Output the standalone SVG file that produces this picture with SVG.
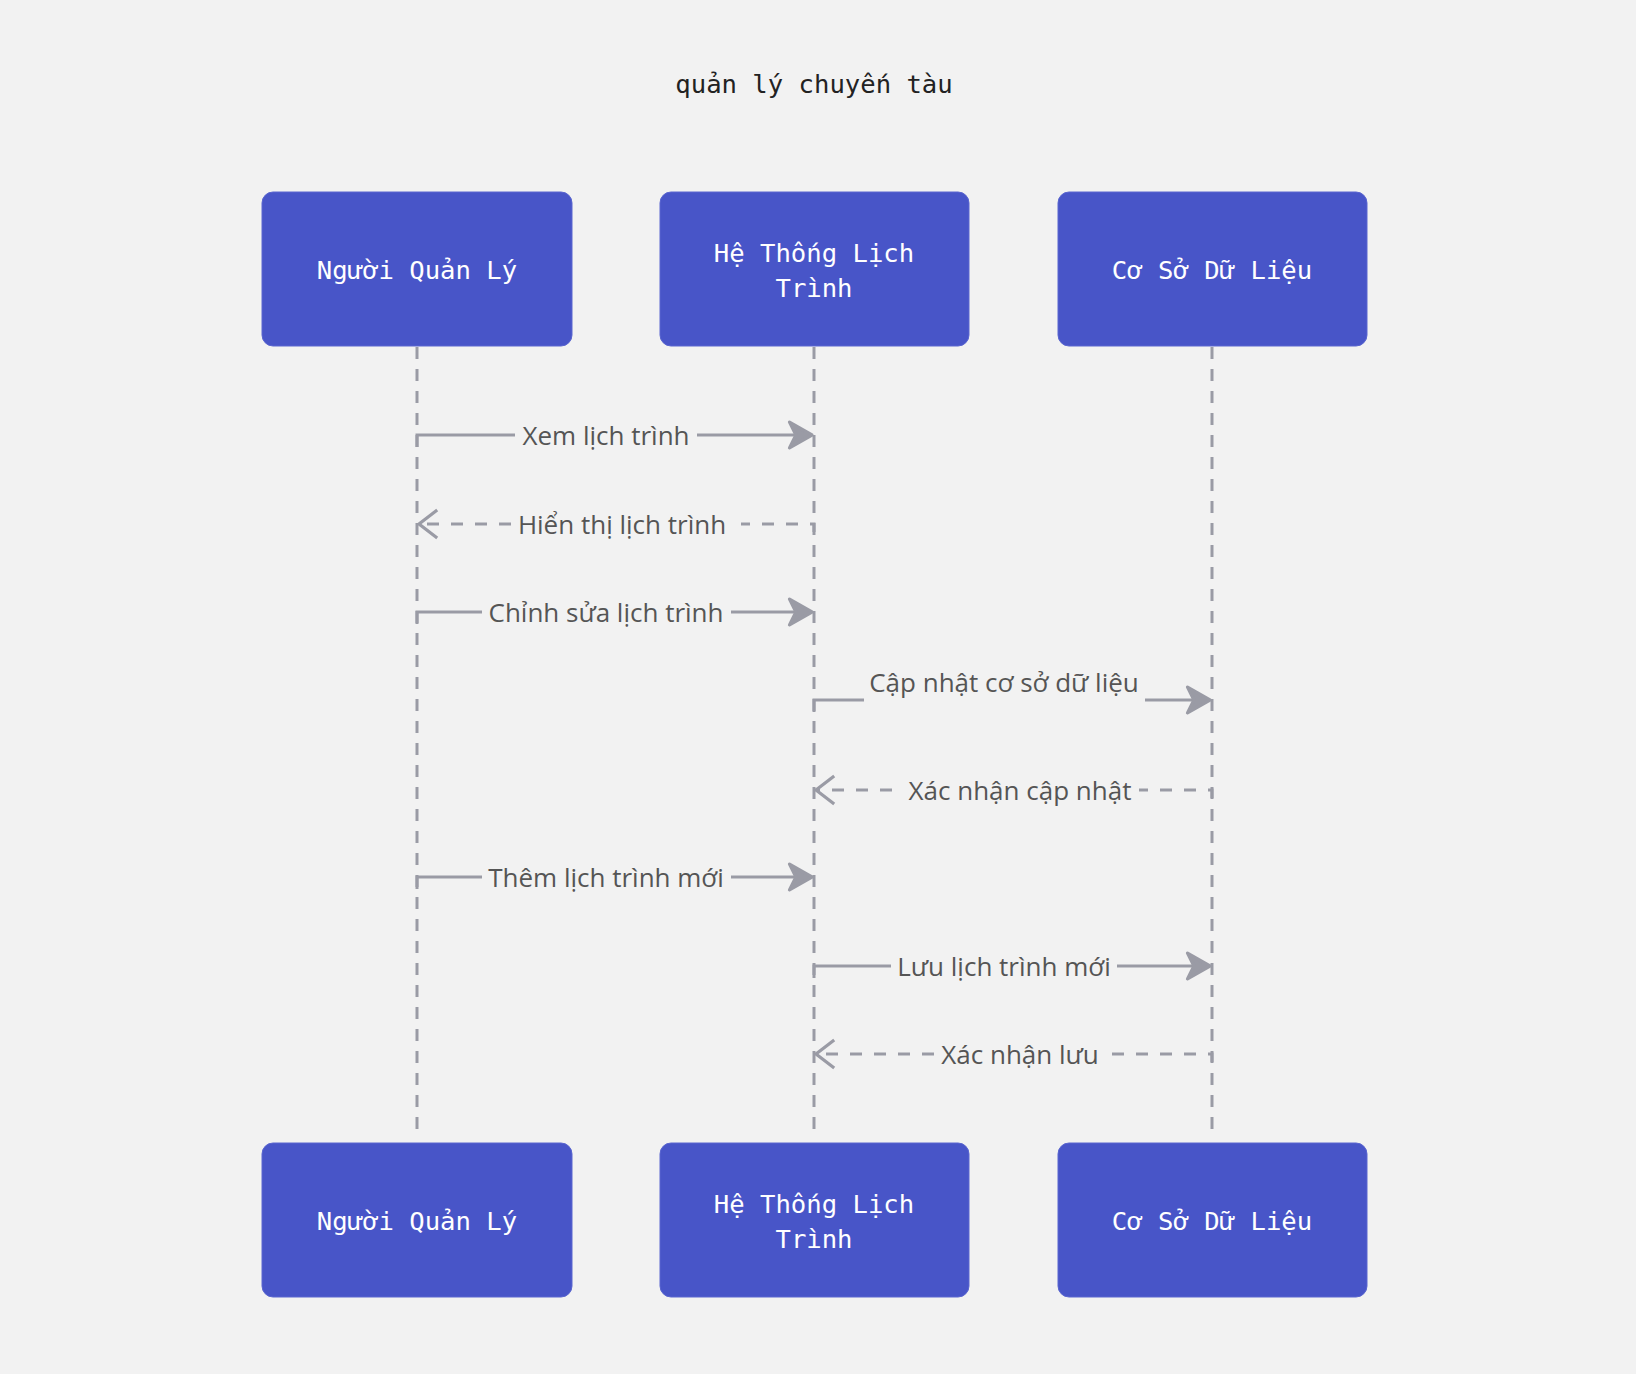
<svg xmlns="http://www.w3.org/2000/svg" width="1636" height="1374" viewBox="0 0 1636 1374">
<style>
.bg{fill:#f2f2f2}
.box{fill:#4855c8;stroke:#5a66d0;stroke-width:1}
.nt{font-family:"DejaVu Sans Mono","Liberation Mono",monospace;font-size:25.6px;fill:#ffffff;text-anchor:middle;dominant-baseline:central}
.title{font-family:"DejaVu Sans Mono","Liberation Mono",monospace;font-size:25.6px;fill:#222;text-anchor:middle;dominant-baseline:central}
.life{stroke:#9a9ba5;stroke-width:3;stroke-dasharray:12 10;fill:none}
.msg{stroke:#9a9ba5;stroke-width:3;fill:none}
.ret{stroke:#9a9ba5;stroke-width:3;fill:none;stroke-dasharray:12 12}
.lbl{font-family:"Open Sans","Noto Sans",sans-serif;font-size:26px;fill:#555;text-anchor:middle;dominant-baseline:central}
</style>
<defs>
<marker id="solid" markerUnits="userSpaceOnUse" markerWidth="30" markerHeight="30" refX="0" refY="0" viewBox="-24 -14 28 28" orient="auto" overflow="visible">
<path d="M0,0 L-21,-12 L-15,0 L-21,12 Z" fill="#9a9ba5" stroke="#9a9ba5" stroke-width="3" stroke-linejoin="round"/>
</marker>
<marker id="open" markerUnits="userSpaceOnUse" markerWidth="30" markerHeight="30" refX="0" refY="0" viewBox="-24 -14 28 28" orient="auto" overflow="visible">
<path d="M-17,-13 L0,0 L-17,13" fill="none" stroke="#9a9ba5" stroke-width="3"/>
</marker>
</defs>
<rect class="bg" x="0" y="0" width="1636" height="1374"/>
<text class="title" x="814" y="84">quản lý chuyến tàu</text>

<g id="lifelines">
<line class="life" x1="417" y1="347" x2="417" y2="1130"/>
<line class="life" x1="814" y1="347" x2="814" y2="1130"/>
<line class="life" x1="1212" y1="347" x2="1212" y2="1130"/>
</g>

<g id="connectors">
<g id="m1"><path class="msg" d="M417,447 V435 H515"/><path class="msg" d="M697,435 H812" marker-end="url(#solid)"/><text class="lbl" x="606" y="435">Xem lịch trình</text></g>
<g id="m2"><path class="ret" d="M814,532 V524 H741"/><path class="ret" d="M511,524 H419" marker-end="url(#open)"/><text class="lbl" x="622" y="524">Hiển thị lịch trình</text></g>
<g id="m3"><path class="msg" d="M417,624 V612 H482"/><path class="msg" d="M731,612 H812" marker-end="url(#solid)"/><text class="lbl" x="606" y="612">Chỉnh sửa lịch trình</text></g>
<g id="m4"><path class="msg" d="M814,712 V700 H864"/><path class="msg" d="M1145,700 H1210" marker-end="url(#solid)"/><text class="lbl" x="1004" y="682">Cập nhật cơ sở dữ liệu</text></g>
<g id="m5"><path class="ret" d="M1212,798 V790 H1139"/><path class="ret" d="M892,790 H816" marker-end="url(#open)"/><text class="lbl" x="1020" y="790">Xác nhận cập nhật</text></g>
<g id="m6"><path class="msg" d="M417,889 V877 H482"/><path class="msg" d="M731,877 H812" marker-end="url(#solid)"/><text class="lbl" x="606" y="877">Thêm lịch trình mới</text></g>
<g id="m7"><path class="msg" d="M814,978 V966 H891"/><path class="msg" d="M1117,966 H1210" marker-end="url(#solid)"/><text class="lbl" x="1004" y="966">Lưu lịch trình mới</text></g>
<g id="m8"><path class="ret" d="M1212,1062 V1054 H1109"/><path class="ret" d="M934,1054 H816" marker-end="url(#open)"/><text class="lbl" x="1020" y="1054">Xác nhận lưu</text></g>
</g>

<g id="node-nguoi-quan-ly-top"><rect class="box" x="262" y="192" width="310" height="154" rx="11"/><text class="nt" x="417" y="270">Người Quản Lý</text></g>
<g id="node-he-thong-top"><rect class="box" x="660" y="192" width="309" height="154" rx="11"/><text class="nt" x="814" y="253">Hệ Thống Lịch</text><text class="nt" x="814" y="288">Trình</text></g>
<g id="node-csdl-top"><rect class="box" x="1058" y="192" width="309" height="154" rx="11"/><text class="nt" x="1212" y="270">Cơ Sở Dữ Liệu</text></g>

<g id="node-nguoi-quan-ly-bottom"><rect class="box" x="262" y="1143" width="310" height="154" rx="11"/><text class="nt" x="417" y="1221">Người Quản Lý</text></g>
<g id="node-he-thong-bottom"><rect class="box" x="660" y="1143" width="309" height="154" rx="11"/><text class="nt" x="814" y="1204">Hệ Thống Lịch</text><text class="nt" x="814" y="1239">Trình</text></g>
<g id="node-csdl-bottom"><rect class="box" x="1058" y="1143" width="309" height="154" rx="11"/><text class="nt" x="1212" y="1221">Cơ Sở Dữ Liệu</text></g>
</svg>
